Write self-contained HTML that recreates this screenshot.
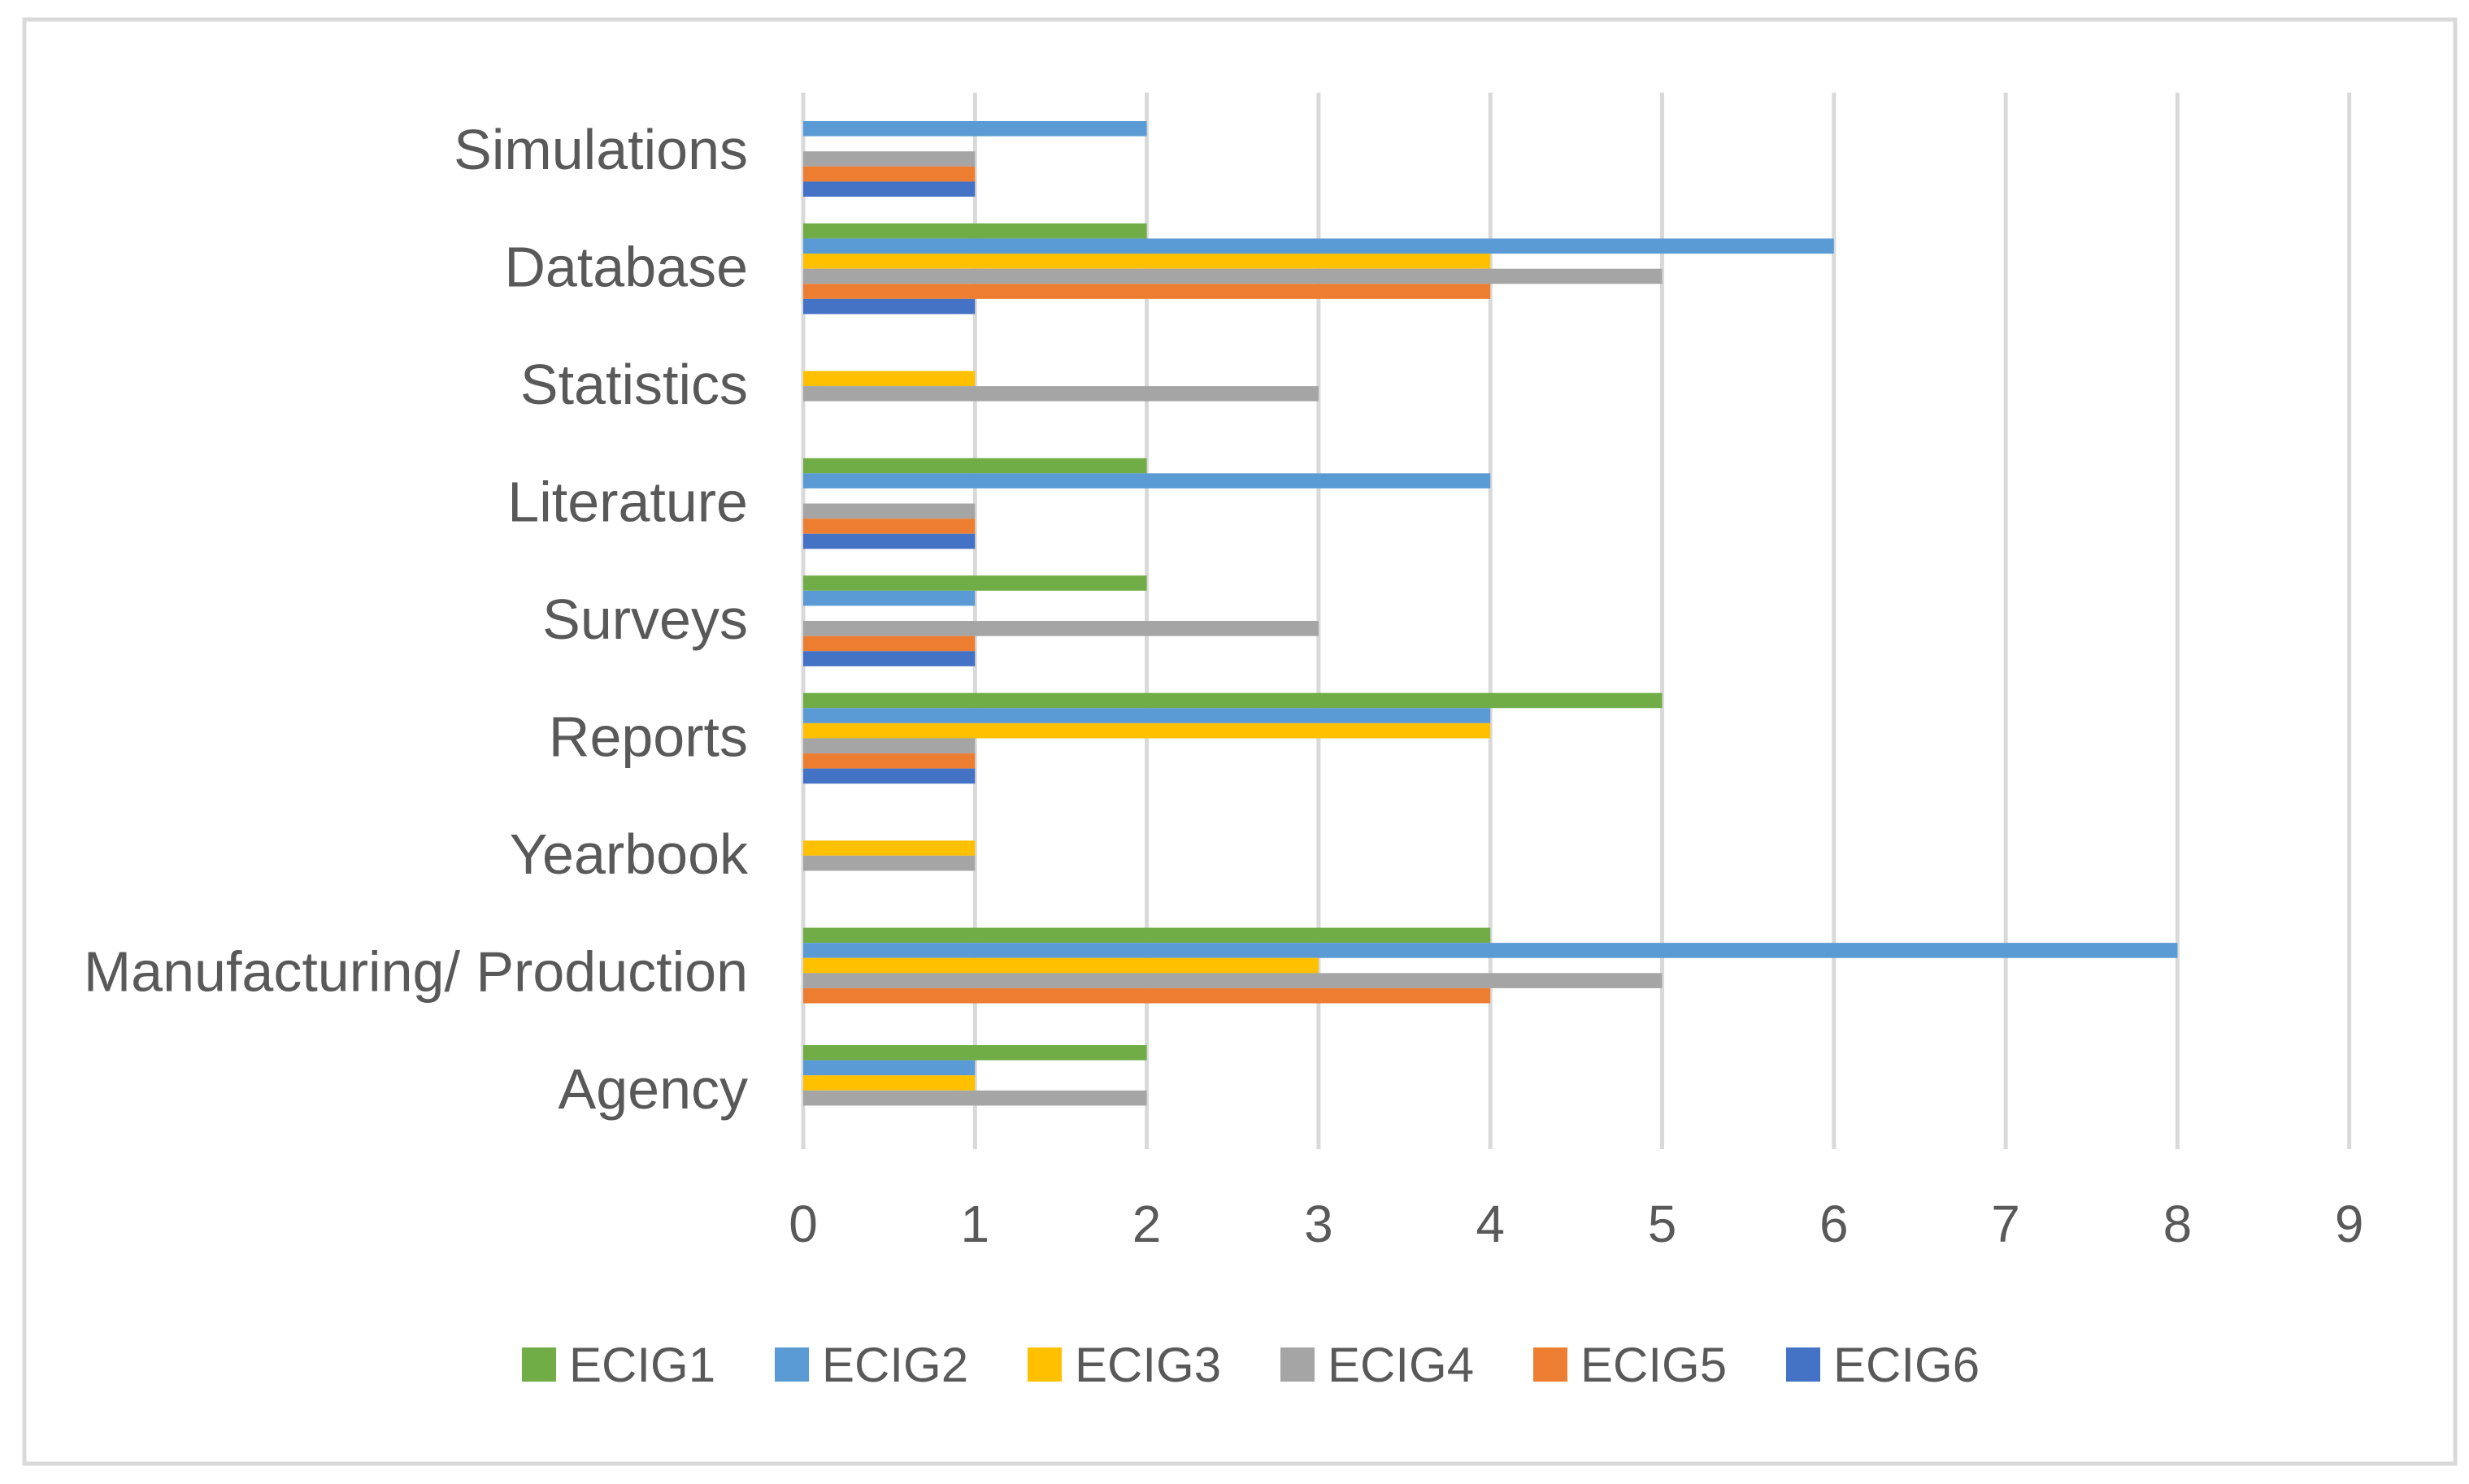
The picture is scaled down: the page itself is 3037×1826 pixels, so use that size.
<!DOCTYPE html>
<html><head><meta charset="utf-8"><style>
html,body{margin:0;padding:0;background:#fff;}
svg{display:block;font-family:"Liberation Sans",sans-serif;}
</style></head><body>
<svg id="chart" width="3037" height="1826" viewBox="0 0 3037 1826" xmlns="http://www.w3.org/2000/svg">
<rect x="30" y="24" width="2990" height="1777" fill="#fff" stroke="#D9D9D9" stroke-width="5"/>
<g id="grid"></g><g id="bars"></g><g id="cats"></g><g id="ticks"></g><g id="legend"></g>
</svg>
<script>
const categories = ["Simulations","Database","Statistics","Literature","Surveys","Reports","Yearbook","Manufacturing/ Production","Agency"];
const seriesNames = ["ECIG1","ECIG2","ECIG3","ECIG4","ECIG5","ECIG6"];
const ecig1 = [0,2,0,2,2,5,0,4,2];
const ecig2 = [2,6,0,4,1,4,0,8,1];
const ecig3 = [0,4,1,0,0,4,1,3,1];
const ecig4 = [1,5,3,1,3,1,1,5,2];
const ecig5 = [1,4,0,1,1,1,0,4,0];
const ecig6 = [1,1,0,1,1,1,0,0,0];
const tickLabels = ["0","1","2","3","4","5","6","7","8","9"];
const series = [ecig1,ecig2,ecig3,ecig4,ecig5,ecig6];
const colors = ["#70AD47","#5B9BD5","#FFC000","#A5A5A5","#ED7D31","#4472C4"];
const NS="http://www.w3.org/2000/svg";
const X0=988, UNIT=211.3, TOP=114, BOT=1414, BAND=(BOT-TOP)/categories.length, BH=18.6;
function xs(v){return X0+v*UNIT;}
function mk(tag,attrs,parent){const e=document.createElementNS(NS,tag);for(const k in attrs)e.setAttribute(k,attrs[k]);document.getElementById(parent).appendChild(e);return e;}
tickLabels.forEach((t,i)=>{
  const l=mk('line',{x1:xs(+t),x2:xs(+t),y1:TOP,y2:BOT,stroke:'#D9D9D9','stroke-width':5},'grid');
  
  
  const tx=mk('text',{x:xs(+t),y:1528,'text-anchor':'middle','font-size':64,fill:'#595959'},'ticks');
  tx.textContent=t;
  
  
});
categories.forEach((c,i)=>{
  const cy=TOP+BAND*(i+0.5);
  const tx=mk('text',{x:920,y:cy+22,'text-anchor':'end','font-size':70,fill:'#595959'},'cats');
  tx.textContent=c;
  
  
  series.forEach((s,j)=>{
    if(!s[i])return;
    const y=cy-3*BH+j*BH;
    const r=mk('rect',{x:xs(0),y:y,width:xs(s[i])-xs(0),height:BH,fill:colors[j]},'bars');
    
    
  });
});
seriesNames.forEach((n,j)=>{
  const x=642+j*311;
  const r=mk('rect',{x:x,y:1658,width:42,height:42,fill:colors[j]},'legend');
  
  
  const t=mk('text',{x:x+58,y:1700,'font-size':60,fill:'#595959'},'legend');
  t.textContent=n;
  
  
});
</script>
</body></html>
